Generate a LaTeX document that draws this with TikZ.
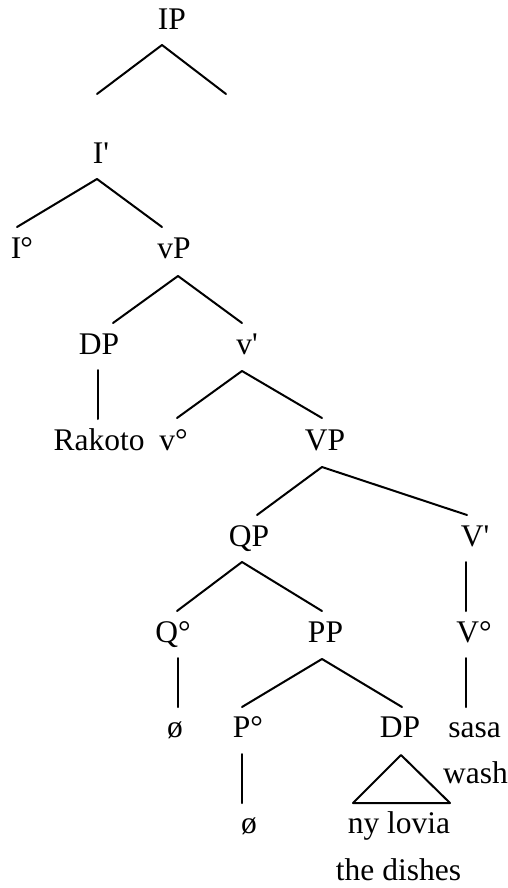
\documentclass[tikz,border=0pt]{standalone}
\usepackage{fontspec}
\newfontfamily\tfont{Liberation Serif}
\begin{document}
\begin{tikzpicture}[x=1pt,y=-1pt,
  lab/.style={font=\tfont\fontsize{31.5}{38}\selectfont,inner sep=0pt,anchor=base},
  edge/.style={line width=2pt,line cap=round,line join=round}]
\useasboundingbox (0,0) rectangle (507,888);
% labels
\node[lab] (IP) at (172,30) {IP};
\node[lab] (Ibar) at (101,163) {I'};
\node[lab] (Io) at (22,258) {I\kern-1pt°};
\node[lab] (vP) at (174,258) {vP};
\node[lab] (DPa) at (99,354) {DP};
\node[lab] (vbar) at (247,354) {v'};
\node[lab] (Rak) at (99,450) {Rakoto};
\node[lab] (vo) at (173.5,450) {v°};
\node[lab] (VP) at (325,450) {VP};
\node[lab] (QP) at (249,546) {QP};
\node[lab] (Vbar) at (475,546) {V'};
\node[lab] (Qo) at (173,642) {Q°};
\node[lab] (PP) at (325.5,642) {PP};
\node[lab] (Vo) at (474,642) {V°};
\node[lab] (nullA) at (175,737) {ø};
\node[lab] (Po) at (248,737) {P°};
\node[lab] (DPb) at (400,737) {DP};
\node[lab] (sasa) at (474.5,737) {sasa};
\node[lab] (wash) at (475.5,783) {wash};
\node[lab] (nullB) at (249,833) {ø};
\node[lab] (nylovia) at (399,833) {ny lovia};
\node[lab] (dishes) at (398.5,880) {the dishes};
% branch points
\coordinate (IPt) at (162,45);  \coordinate (IPl) at (97,94);   \coordinate (IPr) at (226,94);
\coordinate (Ibt) at (97,179);  \coordinate (Ibl) at (17,227);  \coordinate (Ibr) at (162,227);
\coordinate (vPt) at (178,276); \coordinate (vPl) at (113,323); \coordinate (vPr) at (242,323);
\coordinate (DPat) at (98,370); \coordinate (DPab) at (98,419);
\coordinate (vbt) at (242,371); \coordinate (vbl) at (177,418); \coordinate (vbr) at (322,418);
\coordinate (VPt) at (322,467); \coordinate (VPl) at (257,515); \coordinate (VPr) at (467,515);
\coordinate (QPt) at (242,562); \coordinate (QPl) at (177,611); \coordinate (QPr) at (322,611);
\coordinate (Vbt) at (466,562); \coordinate (Vbb) at (466,611);
\coordinate (Qot) at (178,658); \coordinate (Qob) at (178,707);
\coordinate (PPt) at (322,659); \coordinate (PPl) at (242,707); \coordinate (PPr) at (402,707);
\coordinate (Vot) at (466,658); \coordinate (Vob) at (466,707);
\coordinate (Pot) at (242,754); \coordinate (Pob) at (242,803);
\coordinate (Trt) at (401,755); \coordinate (Trl) at (353,803); \coordinate (Trr) at (450,803);
% connectors
\draw[edge] (IPl) -- (IPt) -- (IPr);
\draw[edge] (Ibl) -- (Ibt) -- (Ibr);
\draw[edge] (vPl) -- (vPt) -- (vPr);
\draw[edge] (DPat) -- (DPab);
\draw[edge] (vbl) -- (vbt) -- (vbr);
\draw[edge] (VPl) -- (VPt) -- (VPr);
\draw[edge] (QPl) -- (QPt) -- (QPr);
\draw[edge] (Vbt) -- (Vbb);
\draw[edge] (Qot) -- (Qob);
\draw[edge] (PPl) -- (PPt) -- (PPr);
\draw[edge] (Vot) -- (Vob);
\draw[edge] (Pot) -- (Pob);
\draw[edge] (Trt) -- (Trl) -- (Trr) -- cycle;
\end{tikzpicture}
\end{document}
